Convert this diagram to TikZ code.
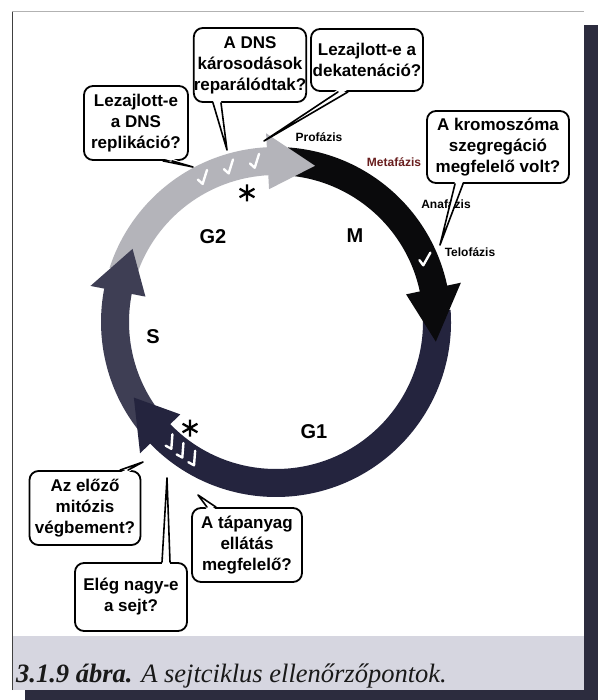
\documentclass[tikz,border=0pt]{standalone}
\usepackage{fontspec}
\setmainfont{Liberation Sans}
\newfontfamily\serifcap{Liberation Serif}
\usetikzlibrary{calc}

\definecolor{phaseG2}{RGB}{180,180,186}
\definecolor{phaseM}{RGB}{10,10,12}
\definecolor{phaseG1}{RGB}{36,36,62}
\definecolor{phaseS}{RGB}{62,62,84}
\definecolor{metared}{RGB}{105,30,30}
\definecolor{capband}{RGB}{214,214,224}
\definecolor{shadowc}{RGB}{44,44,62}

% body of one phase arrow: colour, start angle, angle where the head begins
\newcommand\bandbody[3]{%
  \pgfmathsetmacro\bandend{#3-0.5}%
  \fill[#1] ($(C)+(#2:175pt)$) arc[start angle=#2, end angle=\bandend, radius=175pt]
    -- ($(C)+(\bandend:147pt)$) arc[start angle=\bandend, end angle=#2, radius=147pt] -- cycle;}
% head of one phase arrow: colour, base angle, tip angle
\newcommand\bandhead[3]{%
  \fill[#1] ($(C)+(#2:189pt)$) -- ($(C)+(#3:161pt)$) -- ($(C)+(#2:133pt)$) -- cycle;}
% white tick mark on the ring: angle, rotation
\newcommand\tickat[2]{%
  \begin{scope}[shift={($(C)+(#1:161pt)$)}, rotate=#2, scale=1.15]
    \draw[tick] (-4.5,0) -- (-1.2,4.5) -- (5,-6.5);
  \end{scope}}
% asterisk marking a restriction point
\newcommand\starat[1]{%
  \begin{scope}[shift={#1}]
    \draw[line width=2.3pt] (0,-8.5) -- (0,8.5) (-7.4,-4.25) -- (7.4,4.25) (-7.4,4.25) -- (7.4,-4.25);
  \end{scope}}
% speech-bubble tail: anchor, base offsets, inward shift, apex
\newcommand\calltail[5]{%
  \fill[white] ($(#1)+#2+#4$) -- (#5) -- ($(#1)+#3+#4$) -- cycle;
  \draw[tailline] ($(#1)+#2$) -- (#5) -- ($(#1)+#3$);}

\begin{document}
\begin{tikzpicture}[x=1pt,y=-1pt,
  bubble/.style={draw, line width=1.8pt, rounded corners=9pt, fill=white, align=center,
    font=\bfseries\fontsize{17}{21}\selectfont, inner sep=0pt},
  phase/.style={font=\bfseries\fontsize{20}{20}\selectfont, inner sep=0pt},
  stage/.style={font=\bfseries\fontsize{12}{12}\selectfont, inner sep=0pt},
  tick/.style={white, line width=2.4pt, line cap=round, line join=round},
  tailline/.style={line width=1.6pt, line join=round, line cap=round},
]
\useasboundingbox (0,0) rectangle (601,700);
\fill[white] (0,0) rectangle (601,700);

% page shadow and panel
\fill[shadowc] (584,25) rectangle (598,700);
\fill[shadowc] (25,690) rectangle (598,700);
\fill[white] (12,12) rectangle (584,690);
\fill[capband] (12,636) rectangle (584,690);
\draw[gray!60, line width=1pt] (12,690) -- (12,12) -- (584,12);
\draw[black!75, line width=1.3pt] (12.5,12) -- (12.5,690);

% the cell-cycle ring
\coordinate (C) at (276,322);
\bandbody{phaseG2}{162}{93}
\bandbody{phaseM}{86}{12}
\bandbody{phaseG1}{4}{-136}
\bandbody{phaseS}{-142}{-191}
\bandhead{phaseG2}{93}{76}
\bandhead{phaseM}{12}{-7}
\bandhead{phaseG1}{-136}{-152}
\bandhead{phaseS}{-191}{-207}

% checkpoints passed
\tickat{117}{12}
\tickat{107}{12}
\tickat{97.5}{12}
\tickat{22.6}{0}
\tickat{-131}{25}
\tickat{-126}{25}
\tickat{-121}{25}

\starat{(247,193)}
\starat{(190,428)}

% phase names
\node[phase] (g2) at (213,237) {G2};
\node[phase] (m) at (355,236) {M};
\node[phase] (s) at (153,337) {S};
\node[phase] (g1) at (314,432) {G1};

% mitotic stages
\node[stage] (pro) at (319,137) {Profázis};
\node[stage, text=metared] (meta) at (394,162) {Metafázis};
\node[stage] (ana) at (446,204) {Anafázis};
\node[stage] (telo) at (470,252) {Telofázis};

% checkpoint questions
\node[bubble, minimum width=104pt, minimum height=74pt] (qrep) at (136,123) {Lezajlott-e\\a DNS\\replikáció?};
\node[bubble, minimum width=112pt, minimum height=74pt] (qdam) at (250,65) {A DNS\\károsodások\\reparálódtak?};
\node[bubble, minimum width=112pt, minimum height=62pt] (qdec) at (367,60) {Lezajlott-e a\\dekatenáció?};
\node[bubble, minimum width=142pt, minimum height=72pt] (qseg) at (498,147) {A kromoszóma\\szegregáció\\megfelelő volt?};
\node[bubble, minimum width=111pt, minimum height=74pt] (qmit) at (85,508) {Az előző\\mitózis\\végbement?};
\node[bubble, minimum width=112pt, minimum height=68pt] (qsize) at (131,597) {Elég nagy-e\\a sejt?};
\node[bubble, minimum width=110pt, minimum height=74pt] (qfood) at (247,545) {A tápanyag\\ellátás\\megfelelő?};

\coordinate (trep) at (193,167);
\coordinate (tdam) at (227,150);
\coordinate (tdec) at (264,141);
\coordinate (tseg) at (440,245);
\coordinate (tmit) at (143,462);
\coordinate (tsize) at (167,478);
\coordinate (tfood) at (198,495);

\calltail{qrep.south}{(27,0)}{(36,0)}{(0,-2.5)}{trep}
\calltail{qdam.south}{(-37,0)}{(-29,0)}{(0,-2.5)}{tdam}
\calltail{qdec.south}{(-29,0)}{(-19,0)}{(0,-2.5)}{tdec}
\calltail{qseg.south}{(-43,0)}{(-35,0)}{(0,-2.5)}{tseg}
\calltail{qmit.north}{(35,0)}{(43,0)}{(0,2.5)}{tmit}
\calltail{qsize.north}{(31,0)}{(39,0)}{(0,2.5)}{tsize}
\calltail{qfood.north}{(-40,0)}{(-31,0)}{(0,2.5)}{tfood}

% caption
\node[anchor=base west, inner sep=0pt, text=black!90,
  font=\serifcap\itshape\fontsize{26.5}{27}\selectfont] (cap) at (16,682)
  {\textbf{3.1.9 ábra.} A sejtciklus ellenőrzőpontok.};
\end{tikzpicture}
\end{document}
